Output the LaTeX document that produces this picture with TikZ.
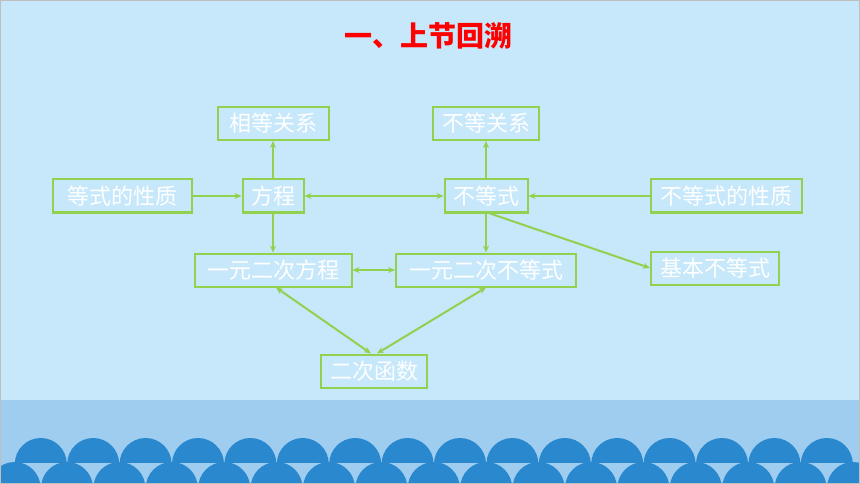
\documentclass[tikz,border=0pt]{standalone}
\usepackage{fontspec}
\usepackage{xcolor}
\usepackage{tikz}
\usetikzlibrary{arrows.meta}
\newfontfamily\cjk{Noto Sans CJK SC}
\definecolor{bgblue}{RGB}{198,232,250}
\definecolor{bandblue}{RGB}{158,205,240}
\definecolor{waveblue}{RGB}{42,136,207}
\definecolor{lgreen}{RGB}{146,208,80}
\tikzset{box/.style={draw=lgreen,line width=2pt,minimum height=33pt,inner xsep=0pt,
  text=white,font=\cjk\fontsize{22}{26}\selectfont},
  conn/.style={draw=lgreen,line width=2pt}}

\begin{document}
\begin{tikzpicture}[x=1pt,y=-1pt,>={Stealth[length=7pt,width=6pt]}]
\useasboundingbox (0,0) rectangle (860,484);
\clip (0,0) rectangle (860,484);
\fill[bgblue] (0,0) rectangle (860,484);
\fill[bandblue] (0,400) rectangle (860,484);
\begin{scope}
  \clip (0,0) rectangle (860,462);
  \foreach \i in {0,...,15} \fill[waveblue] (40.8+52.4*\i,464) circle[radius=26];
\end{scope}
\foreach \i in {0,...,16} \fill[waveblue] (14.6+52.4*\i,488) circle[radius=26];
\draw[gray!50,line width=1pt] (0.5,0.5) rectangle (859.5,483.5);

\node[text=red,font=\cjk\bfseries\fontsize{28}{32}\selectfont] (T) at (428,36) {一、上节回溯};

\node[box,minimum width=111pt] (XD) at (273,123.5) {相等关系};
\node[box,minimum width=106pt] (BD) at (486,123.5) {不等关系};
\node[box,minimum width=139pt] (DX) at (122,196)   {等式的性质};
\node[box,minimum width=61pt]  (FC) at (273,196)   {方程};
\node[box,minimum width=83pt]  (BS) at (486,196)   {不等式};
\node[box,minimum width=151pt] (BX) at (726.5,196) {不等式的性质};
\node[box,minimum width=157pt] (YF) at (273,270)   {一元二次方程};
\node[box,minimum width=180pt] (YB) at (486,270)   {一元二次不等式};
\node[box,minimum width=128pt] (JB) at (715,268)   {基本不等式};
\node[box,minimum width=106pt] (EH) at (374,371)   {二次函数};

\draw[conn,->] (FC) -- (XD);
\draw[conn,->] (BS) -- (BD);
\draw[conn,->] (DX) -- (FC);
\draw[conn,->] (BX) -- (BS);
\draw[conn,->] (FC) -- (YF);
\draw[conn,->] (BS) -- (YB);
\draw[conn,->] ([xshift=4pt]BS.south) -- (JB.west);

\draw[conn,<->] (FC) -- (BS);
\draw[conn,<->] (YF) -- (YB);
\draw[conn,<->] ([xshift=3pt]YF.south) -- ([xshift=-3pt]EH.north);
\draw[conn,<->] (YB.south) -- ([xshift=3pt]EH.north);

\end{tikzpicture}
\end{document}
